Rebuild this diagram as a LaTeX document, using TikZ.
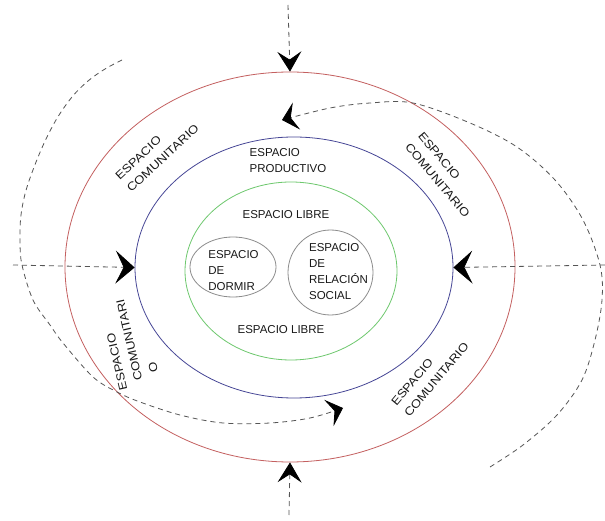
\documentclass[tikz,border=0pt]{standalone}
\usepackage{fontspec}
\setmainfont{Liberation Sans}
\newfontfamily\widefont[FakeStretch=1.15]{Liberation Sans}
\usetikzlibrary{arrows.meta,shapes.geometric}
\definecolor{ringred}{RGB}{196,96,96}
\definecolor{ringblue}{RGB}{70,70,150}
\definecolor{ringgreen}{RGB}{110,200,110}
\definecolor{ringgray}{RGB}{140,140,140}
\definecolor{dashgray}{RGB}{85,85,85}
\definecolor{txt}{RGB}{25,25,25}
\begin{document}
\begin{tikzpicture}[x=1pt,y=1pt,
  ring/.style={ellipse, draw, line width=0.8pt, inner sep=0pt},
  lbl/.style={text=txt, font=\fontsize{11.5}{16}\selectfont, align=left, inner sep=0pt},
  rlbl/.style={text=txt, font=\widefont\fontsize{11.5}{17}\selectfont, align=left, inner sep=0pt},
  flow/.style={draw=dashgray, line width=0.8pt, dash pattern=on 5pt off 4pt},
  vtip/.style={-{Stealth[length=20pt,width=24pt,inset=8pt,color=black]}},
  htip/.style={-{Stealth[length=19pt,width=33pt,inset=8pt,color=black]}},
  ctip/.style={-{Stealth[length=15pt,width=28pt,inset=6pt,color=black]}},
]
\useasboundingbox (0,0) rectangle (605,520);
\fill[white] (0,0) rectangle (605,520);

% rings
\node[ring, draw=ringred, minimum width=450pt, minimum height=390pt] (red) at (290,253) {};
\node[ring, draw=ringblue, minimum width=318pt, minimum height=261pt] (blue) at (294,252.5) {};
\node[ring, draw=ringgreen, minimum width=212pt, minimum height=178pt] (green) at (291,249) {};
\node[ring, draw=ringgray, minimum width=86pt, minimum height=60pt] (dormir) at (233,253) {};
\node[ring, draw=ringgray, minimum width=85pt, minimum height=85pt] (social) at (330.5,247.5) {};

% labels
\node[lbl] (prod) at (288,359.5) {ESPACIO\\PRODUCTIVO};
\node[lbl] (libre1) at (286,305) {ESPACIO LIBRE};
\node[lbl] (libre2) at (281,190) {ESPACIO LIBRE};
\node[lbl] (dormirt) at (233.5,249.5) {ESPACIO\\DE\\DORMIR};
\node[lbl] (socialt) at (338.5,248) {ESPACIO\\DE\\RELACIÓN\\SOCIAL};
\node[rlbl, rotate=43] (comtl) at (157,368) {ESPACIO\\COMUNITARIO};
\node[rlbl, rotate=-50] (comtr) at (444,345) {ESPACIO\\COMUNITARIO};
\node[rlbl, rotate=50] (combr) at (430,146) {ESPACIO\\COMUNITARIO};
\node[rlbl, rotate=103] (coml) at (130,177) {ESPACIO\\\hspace*{6pt}COMUNITARI\\\hspace*{10pt}O};

% straight flows
\coordinate (tin) at (288,515);
\coordinate (bin) at (289,5);
\coordinate (lin) at (13,255);
\coordinate (rin) at (605,255);
\draw[flow, vtip] (tin) -- (red.north);
\draw[flow, vtip] (bin) -- (red.south);
\draw[flow, htip] (lin) -- (blue.west);
\draw[flow, htip] (rin) -- (blue.east);

% curved flows
\coordinate (rtail) at (490,53);
\coordinate (rhead) at (282,400);
\draw[flow, ctip] plot[smooth, tension=0.55] coordinates {(rtail) (523,75) (557,105) (582,140) (595,180) (602,220) (600,255) (583,300) (555,340) (517,373) (470,397) (413,417) (370,417) (330,412) (rhead)};
\coordinate (ltail) at (122,460);
\coordinate (lhead) at (343,112);
\draw[flow, ctip] plot[smooth, tension=0.55] coordinates {(ltail) (105,451) (88,439) (72,423) (56,400) (41,370) (27,333) (21,305) (20,278) (22,255) (33,220) (50,195) (63,177) (93,143) (117,128) (140,118) (180,105) (223,97) (270,97) (310,102) (lhead)};
\end{tikzpicture}
\end{document}
